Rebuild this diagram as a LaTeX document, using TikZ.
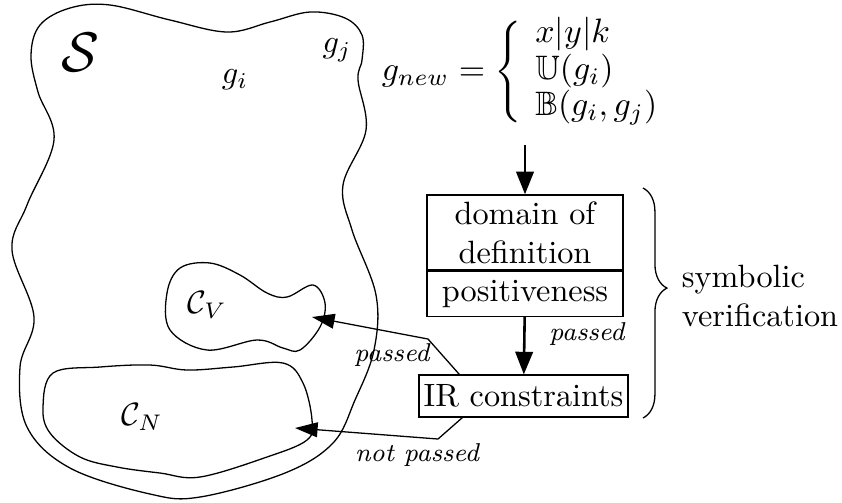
\documentclass[tikz,border=0pt]{standalone}
\usepackage{amssymb}
\usetikzlibrary{arrows.meta,decorations.pathreplacing}

\tikzset{
  box/.style={draw, inner sep=0pt, align=center},
  flow/.style={-{Triangle[length=7pt,width=5.4pt]}, line width=0.8pt},
  back/.style={-{Triangle[length=7pt,width=4.6pt]}, line width=0.4pt},
  note/.style={font=\footnotesize\itshape},
}

\begin{document}
\begin{tikzpicture}[x=0.31pt,y=-0.31pt,line width=0.4pt]
	\useasboundingbox (0,0) rectangle (842,502);
	
	% the set S and its two subsets
	\draw plot[smooth cycle, tension=0.6] coordinates {(40,25) (70,8) (110,5) (170,20) (227,32) (270,22) (310,12) (345,18) (362,35) (362,60) (358,80) (366,130) (343,185) (352,230) (376,295) (374,350) (355,400) (333,443) (285,473) (200,497) (150,494) (70,468) (27,427) (20,367) (34,317) (12,250) (27,205) (54,140) (38,92) (31,55)};
	\draw plot[smooth cycle, tension=0.6] coordinates {(167,293) (180,268) (210,263) (240,275) (267,293) (287,297) (313,285) (325,303) (320,327) (300,350) (283,348) (257,340) (207,350) (170,330)};
	\draw plot[smooth cycle, tension=0.6] coordinates {(43,407) (53,373) (100,367) (150,365) (187,370) (233,367) (283,363) (303,383) (312,420) (307,440) (267,457) (200,477) (160,473) (117,467) (80,457) (50,433)};
	
	\node (S) at (80,52) {\LARGE$\mathcal{S}$};
	\node (gi) at (235,80) {$g_i$};
	\node (gj) at (337,50) {$g_j$};
	\node (cv) at (207,305) {$\mathcal{C}_V$};
	\node (cn) at (142,417) {$\mathcal{C}_N$};
	
	% generation and checks
	\node[scale=1.05] (eq) at (530,72) {\renewcommand{\arraystretch}{0.9}$g_{new} = \left\{ \begin{array}{@{\hspace{4pt}}l} x|y|k\\ \mathbb{U}(g_i)\\ \mathbb{B}(g_i,g_j) \end{array}\right.$};
	\node[box, minimum width=60.8pt, minimum height=23.3pt] (dom) at (525,232.5) {domain of\\definition};
	\node[box, minimum width=60.8pt, minimum height=14pt, anchor=north] (pos) at (dom.south) {positiveness};
	\node[box, minimum width=64.8pt, minimum height=13pt] (ir) at (523.5,396) {IR constraints};
	\node[align=left] (sym) at (760,296) {symbolic\\verification};
	
	\coordinate (cvtip) at (312,317);
	\coordinate (cntip) at (295,428);
	\coordinate (bendv) at (428,339);
	\coordinate (bendn) at (438,439);
	
	\draw[flow, shorten <=2pt] (eq.south -| dom.north) -- (dom.north);
	\draw[flow] (pos) -- (ir) node[note, pos=0.3, right, xshift=4pt] {passed};
	\draw[back] (ir.north west) ++(41,0) -- (bendv) -- (cvtip);
	\draw[back] (ir.south west) ++(44,0) -- (bendn) -- (cntip);
	\node[note] (lpass) at (392,355) {passed};
	\node[note] (lnot) at (417,455) {not passed};
	
	\draw[decorate, decoration={brace, amplitude=7.4pt, aspect=0.435}] (643,188) -- (643,418);
\end{tikzpicture}
\end{document}
